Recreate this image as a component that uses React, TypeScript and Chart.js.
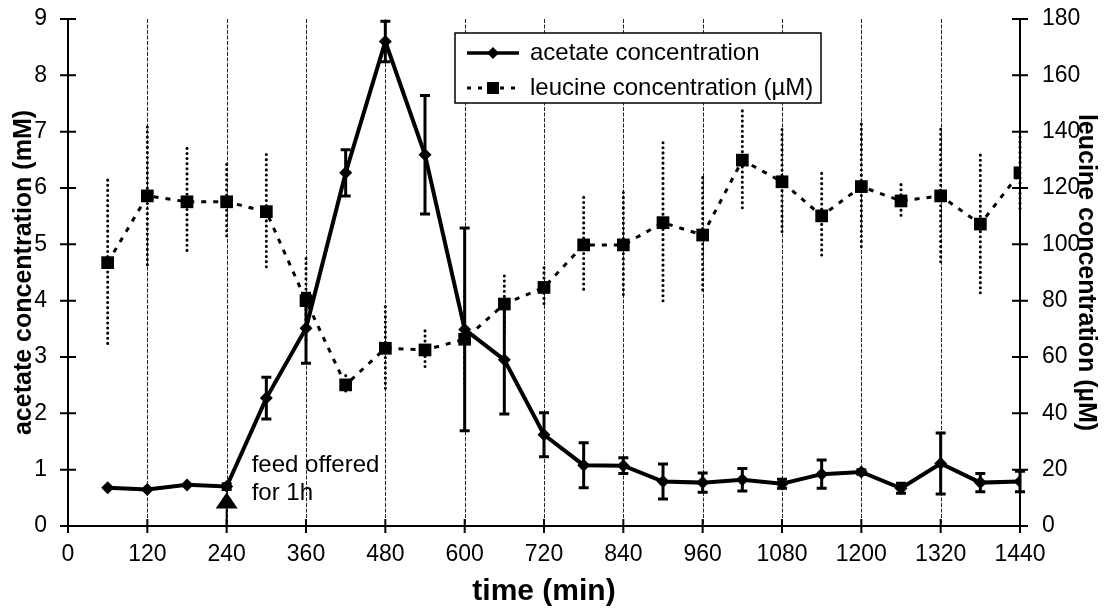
import React, { useEffect, useRef } from "react";
import { Chart, registerables } from "chart.js";

Chart.register(...registerables);

const times = [60, 120, 180, 240, 300, 360, 420, 480, 540, 600, 660, 720, 780, 840, 900, 960, 1020, 1080, 1140, 1200, 1260, 1320, 1380, 1440];
const acetate = [0.68, 0.65, 0.73, 0.7, 2.27, 3.51, 6.27, 8.6, 6.59, 3.49, 2.95, 1.62, 1.08, 1.07, 0.79, 0.77, 0.82, 0.75, 0.92, 0.96, 0.67, 1.11, 0.77, 0.79];
const acetateErr = [0, 0, 0, 0.05, 0.37, 0.62, 0.41, 0.36, 1.05, 1.8, 0.96, 0.39, 0.4, 0.14, 0.31, 0.17, 0.2, 0.08, 0.25, 0.04, 0.09, 0.54, 0.16, 0.18];
const leucine = [93.5, 117.2, 115.1, 115.1, 111.6, 80.0, 50.1, 63.1, 62.5, 66.3, 78.8, 84.7, 99.8, 99.8, 107.7, 103.3, 129.9, 122.2, 110.1, 120.5, 115.4, 117.2, 107.2, 125.4];
const leucineErr = [29.3, 24.5, 19, 13.3, 20.3, 15, 3.3, 14.8, 6.8, 17, 10, 7, 16.9, 18.6, 28.4, 20.4, 17.5, 18.6, 15.1, 22.2, 5.8, 23.7, 24.5, 12.7];
const xTicks = [0, 120, 240, 360, 480, 600, 720, 840, 960, 1080, 1200, 1320, 1440];
const yLeftTicks = [0, 1, 2, 3, 4, 5, 6, 7, 8, 9];
const yRightTicks = [0, 20, 40, 60, 80, 100, 120, 140, 160, 180];
const seriesNames = ["acetate concentration", "leucine concentration (\u00b5M)"];
const feedTime = 240;
const feedLabel = ["feed offered", "for 1h"];

const FONT = "'Liberation Sans', Arial, Helvetica, sans-serif";

const drawPlugin = {
  id: "custom",
  beforeDatasetsDraw(chart: any) {
    const { ctx, chartArea } = chart;
    const xs = chart.scales.x;
    const yl = chart.scales.y;
    const yr = chart.scales.y1;
    ctx.save();
    // vertical grid lines
    ctx.strokeStyle = "rgba(0,0,0,0.85)";
    ctx.lineWidth = 1;
    ctx.setLineDash([4, 1.5]);
    xTicks.forEach((t) => {
      if (t === 0 || t === 1440) return;
      const x = Math.round(xs.getPixelForValue(t)) + 0.5;
      ctx.beginPath();
      ctx.moveTo(x, chartArea.top);
      ctx.lineTo(x, chartArea.bottom);
      ctx.stroke();
    });
    // leucine error bars (dotted)
    ctx.setLineDash([0.1, 5]);
    ctx.lineCap = "round";
    ctx.lineWidth = 3;
    ctx.strokeStyle = "#000";
    times.forEach((t, i) => {
      const e = leucineErr[i];
      if (!e) return;
      const x = xs.getPixelForValue(t);
      ctx.beginPath();
      ctx.moveTo(x, yr.getPixelForValue(leucine[i] + e));
      ctx.lineTo(x, yr.getPixelForValue(leucine[i] - e));
      ctx.stroke();
    });
    // acetate error bars (solid with caps)
    ctx.setLineDash([]);
    ctx.lineCap = "butt";
    ctx.lineWidth = 3;
    times.forEach((t, i) => {
      const e = acetateErr[i];
      if (!e) return;
      const x = xs.getPixelForValue(t);
      const y1 = yl.getPixelForValue(acetate[i] + e);
      const y2 = yl.getPixelForValue(acetate[i] - e);
      ctx.beginPath();
      ctx.moveTo(x, y1);
      ctx.lineTo(x, y2);
      ctx.moveTo(x - 5, y1);
      ctx.lineTo(x + 5, y1);
      ctx.moveTo(x - 5, y2);
      ctx.lineTo(x + 5, y2);
      ctx.stroke();
    });
    ctx.restore();
  },
  afterDatasetsDraw(chart: any) {
    const { ctx, chartArea } = chart;
    const xs = chart.scales.x;
    const yl = chart.scales.y;
    const yr = chart.scales.y1;
    ctx.save();
    ctx.strokeStyle = "#000";
    ctx.fillStyle = "#000";
    ctx.setLineDash([]);
    ctx.lineWidth = 2;
    // axes
    ctx.beginPath();
    ctx.moveTo(chartArea.left, chartArea.top);
    ctx.lineTo(chartArea.left, chartArea.bottom);
    ctx.lineTo(chartArea.right, chartArea.bottom);
    ctx.lineTo(chartArea.right, chartArea.top);
    ctx.stroke();
    // cross ticks
    ctx.beginPath();
    yLeftTicks.forEach((v) => {
      const y = yl.getPixelForValue(v);
      ctx.moveTo(chartArea.left - 8, y);
      ctx.lineTo(chartArea.left + 8, y);
    });
    yRightTicks.forEach((v) => {
      const y = yr.getPixelForValue(v);
      ctx.moveTo(chartArea.right - 8, y);
      ctx.lineTo(chartArea.right + 8, y);
    });
    xTicks.forEach((t) => {
      const x = xs.getPixelForValue(t);
      ctx.moveTo(x, chartArea.bottom - 7);
      ctx.lineTo(x, chartArea.bottom + 7);
    });
    ctx.stroke();

    // feed annotation
    const fx = xs.getPixelForValue(feedTime);
    const apex = yl.getPixelForValue(0.6);
    const base = yl.getPixelForValue(0.31);
    ctx.beginPath();
    ctx.moveTo(fx, apex);
    ctx.lineTo(fx - 11, base);
    ctx.lineTo(fx + 11, base);
    ctx.closePath();
    ctx.fill();
    ctx.beginPath();
    ctx.moveTo(fx, base);
    ctx.lineTo(fx, chartArea.bottom);
    ctx.stroke();
    ctx.font = `24px ${FONT}`;
    ctx.textAlign = "left";
    ctx.textBaseline = "middle";
    ctx.fillText(feedLabel[0], fx + 25, yl.getPixelForValue(1.08));
    ctx.fillText(feedLabel[1], fx + 25, yl.getPixelForValue(0.58));

    // legend
    const lx = 455, ly = 33, lw = 366, lh = 70;
    ctx.fillStyle = "#fff";
    ctx.fillRect(lx, ly, lw, lh);
    ctx.strokeStyle = "#000";
    ctx.lineWidth = 1.5;
    ctx.strokeRect(lx, ly, lw, lh);
    ctx.fillStyle = "#000";
    const r1 = ly + 20, r2 = ly + 55;
    ctx.lineWidth = 3.5;
    ctx.beginPath();
    ctx.moveTo(lx + 12, r1);
    ctx.lineTo(lx + 64, r1);
    ctx.stroke();
    const cx = lx + 38;
    ctx.beginPath();
    ctx.moveTo(cx, r1 - 6);
    ctx.lineTo(cx + 6, r1);
    ctx.lineTo(cx, r1 + 6);
    ctx.lineTo(cx - 6, r1);
    ctx.closePath();
    ctx.fill();
    ctx.lineWidth = 3;
    ctx.setLineDash([4, 7]);
    ctx.beginPath();
    ctx.moveTo(lx + 12, r2);
    ctx.lineTo(lx + 64, r2);
    ctx.stroke();
    ctx.setLineDash([]);
    ctx.fillRect(cx - 6, r2 - 6, 12, 12);
    ctx.font = `24px ${FONT}`;
    ctx.textAlign = "left";
    ctx.textBaseline = "middle";
    ctx.fillText(seriesNames[0], lx + 75, r1);
    ctx.fillText(seriesNames[1], lx + 75, r2);
    ctx.restore();
  },
};

export default function App() {
  const ref = useRef<HTMLCanvasElement | null>(null);
  useEffect(() => {
    document.body.style.margin = "0";
    const canvas = ref.current;
    if (!canvas) return;
    const tickFont = { family: FONT, size: 23 };
    const plain = (v: any) => String(v);
    const chart = new Chart(canvas, {
      type: "line",
      data: {
        datasets: [
          {
            label: seriesNames[0],
            data: times.map((t, i) => ({ x: t, y: acetate[i] })),
            yAxisID: "y",
            borderColor: "#000",
            backgroundColor: "#000",
            borderWidth: 4,
            pointStyle: "rectRot",
            pointRadius: 6.5,
            pointBorderWidth: 0,
            tension: 0,
            order: 0,
          },
          {
            label: seriesNames[1],
            data: times.map((t, i) => ({ x: t, y: leucine[i] })),
            yAxisID: "y1",
            borderColor: "#000",
            backgroundColor: "#000",
            borderWidth: 3,
            borderDash: [5, 7],
            pointStyle: "rect",
            pointRadius: 9,
            pointBorderWidth: 0,
            tension: 0,
            order: 1,
          },
        ],
      },
      options: {
        responsive: false,
        animation: false,
        layout: { padding: { top: 19, left: 0, right: 0, bottom: 0 } },
        plugins: { legend: { display: false }, tooltip: { enabled: false } },
        scales: {
          x: {
            type: "linear",
            min: 0,
            max: 1440,
            afterBuildTicks: (s: any) => {
              s.ticks = xTicks.map((v) => ({ value: v }));
            },
            afterFit: (s: any) => {
              s.height = 86;
              s.paddingLeft = 0;
              s.paddingRight = 0;
            },
            grid: { display: false, drawTicks: false },
            border: { display: false },
            ticks: { color: "#000", font: tickFont, padding: 15, maxRotation: 0, autoSkip: false, callback: plain },
            title: {
              display: true,
              text: "time (min)",
              color: "#000",
              font: { family: FONT, size: 30, weight: "bold" },
              padding: { top: 0, bottom: 2 },
            },
          },
          y: {
            position: "left",
            min: 0,
            max: 9,
            afterBuildTicks: (s: any) => {
              s.ticks = yLeftTicks.map((v) => ({ value: v }));
            },
            afterFit: (s: any) => {
              s.width = 68;
              s.paddingTop = 0;
              s.paddingBottom = 0;
            },
            grid: { display: false, drawTicks: false },
            border: { display: false },
            ticks: { color: "#000", font: tickFont, padding: 21, callback: plain },
            title: {
              display: true,
              text: "acetate concentration (mM)",
              color: "#000",
              font: { family: FONT, size: 25, weight: "bold" },
              padding: { top: 9, bottom: 0 },
            },
          },
          y1: {
            position: "right",
            min: 0,
            max: 180,
            afterBuildTicks: (s: any) => {
              s.ticks = yRightTicks.map((v) => ({ value: v }));
            },
            afterFit: (s: any) => {
              s.width = 92;
              s.paddingTop = 0;
              s.paddingBottom = 0;
            },
            grid: { display: false, drawTicks: false },
            border: { display: false },
            ticks: { color: "#000", font: tickFont, padding: 22, callback: plain },
            title: {
              display: true,
              text: "leucine concentration (\u00b5M)",
              color: "#000",
              font: { family: FONT, size: 25, weight: "bold" },
              padding: { top: 11, bottom: 0 },
            },
          },
        },
      },
      plugins: [drawPlugin],
    } as any);
    return () => chart.destroy();
  }, []);
  return (
    <div style={{ position: "absolute", left: 0, top: 0, width: 1112, height: 612, background: "#fff" }}>
      <canvas ref={ref} width={1112} height={612} />
    </div>
  );
}
